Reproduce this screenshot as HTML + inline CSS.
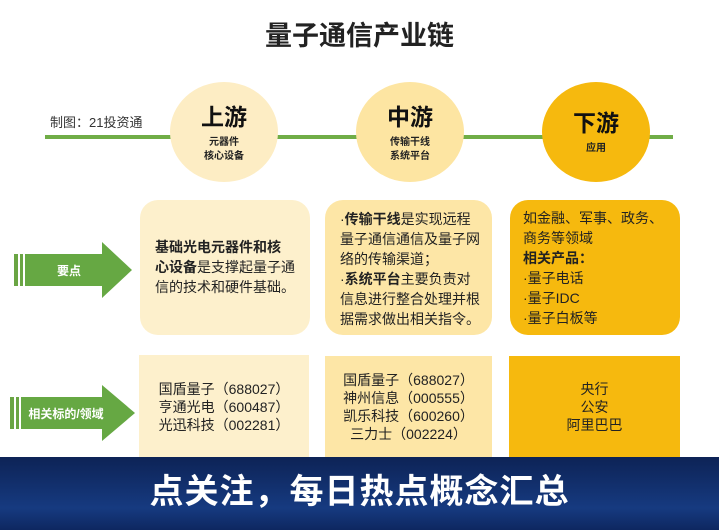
<!DOCTYPE html>
<html><head><meta charset="utf-8"><style>
*{margin:0;padding:0;box-sizing:border-box}
body{width:719px;height:530px;position:relative;background:#fff;font-family:"Liberation Sans","Noto Sans CJK SC",sans-serif;overflow:hidden;color:#222}
.a{position:absolute}
.title{left:0;width:719px;top:14px;text-align:center;font-size:27px;font-weight:bold;color:#222}
.line{left:45px;width:628px;top:135px;height:4px;background:#70ad47}
.c{width:108px;height:100px;border-radius:50%;text-align:center}
.c b{display:block;font-size:23px;margin-top:16px;color:#111}
.c s{display:block;text-decoration:none;font-size:10px;font-weight:bold;line-height:14px;margin-top:4px}
.bx{border-radius:18px;font-size:14px;line-height:20px;white-space:nowrap}
.sq{font-size:14px;line-height:18px;text-align:center;display:flex;align-items:center;justify-content:center}
.banner{left:0;top:457px;width:719px;height:73px;background:linear-gradient(#0d2356,#163a80 70%,#0e2760);color:#fff;font-size:34px;font-weight:bold;text-align:center;line-height:70px;letter-spacing:1px}
</style></head><body>
<div class="a title">量子通信产业链</div>
<div class="a" style="left:50px;top:112px;font-size:13px;color:#333">制图：21投资通</div>
<div class="a line"></div>
<div class="a c" style="left:170px;top:82px;background:#fdedc4"><b>上游</b><s>元器件<br>核心设备</s></div>
<div class="a c" style="left:356px;top:82px;background:#fde5a2"><b>中游</b><s>传输干线<br>系统平台</s></div>
<div class="a c" style="left:542px;top:82px;background:#f6b90e"><b style="margin-top:22px">下游</b><s>应用</s></div>

<svg class="a" style="left:14px;top:242px" width="120" height="58"><rect x="0" y="12" width="4" height="32" fill="#6aa544"/><rect x="6" y="12" width="3" height="32" fill="#6aa544"/><polygon points="11,12 88,12 88,0 118,28 88,56 88,44 11,44" fill="#66a843"/><text x="55" y="33" fill="#fff" font-size="12" font-weight="bold" text-anchor="middle" font-family="Liberation Sans,Noto Sans CJK SC,sans-serif">要点</text></svg>
<svg class="a" style="left:10px;top:385px" width="128" height="58"><rect x="0" y="12" width="4" height="32" fill="#6aa544"/><rect x="6" y="12" width="3" height="32" fill="#6aa544"/><polygon points="11,12 92,12 92,0 125,28 92,56 92,44 11,44" fill="#66a843"/><text x="56" y="33" fill="#fff" font-size="12" font-weight="bold" text-anchor="middle" font-family="Liberation Sans,Noto Sans CJK SC,sans-serif">相关标的/领域</text></svg>

<div class="a bx" style="left:140px;top:200px;width:170px;height:135px;background:#fdf0cc;padding:37px 0 0 15px"><b>基础光电元器件和核</b><br><b>心设备</b>是支撑起量子通<br>信的技术和硬件基础。</div>
<div class="a bx" style="left:325px;top:200px;width:167px;height:135px;background:#fde6a6;padding:9px 0 0 15px"> ·<b>传输干线</b>是实现远程<br>量子通信通信及量子网<br>络的传输渠道；<br> ·<b>系统平台</b>主要负责对<br>信息进行整合处理并根<br>据需求做出相关指令。</div>
<div class="a bx" style="left:510px;top:200px;width:170px;height:135px;background:#f6b90e;padding:8px 0 0 13px">如金融、军事、政务、<br>商务等领域<br><b>相关产品：</b><br> ·量子电话<br> ·量子IDC<br> ·量子白板等</div>

<div class="a sq" style="left:139px;top:355px;width:170px;height:103px;background:#fdf0cc;text-align:left">国盾量子（688027）<br>亨通光电（600487）<br>光迅科技（002281）</div>
<div class="a sq" style="left:325px;top:356px;width:167px;height:102px;background:#fde6a6">国盾量子（688027）<br>神州信息（000555）<br>凯乐科技（600260）<br>三力士（002224）</div>
<div class="a sq" style="left:509px;top:356px;width:171px;height:102px;background:#f6b90e">央行<br>公安<br>阿里巴巴</div>

<div class="a banner">点关注，每日热点概念汇总</div>
</body></html>
